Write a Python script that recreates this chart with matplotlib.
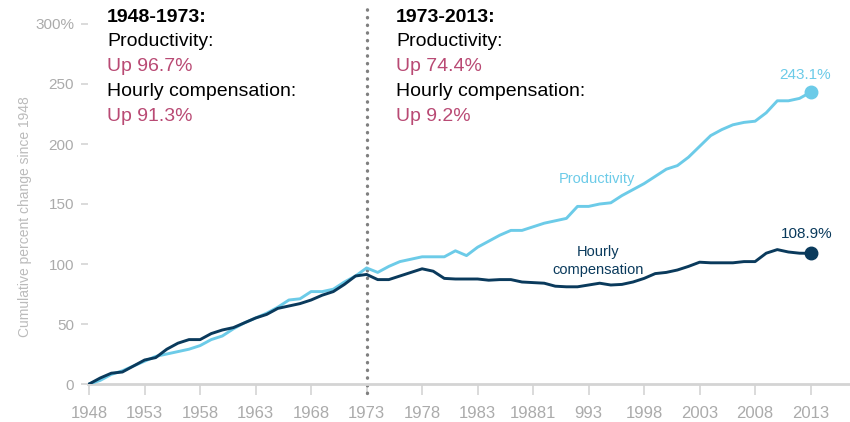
import matplotlib
matplotlib.use("Agg")
import matplotlib.pyplot as plt
import numpy as np

plt.rcParams["font.family"] = ["Liberation Sans", "DejaVu Sans"]

years = np.arange(1948, 2014)

productivity = [
    0, 3, 8, 11, 15, 19, 23, 25, 27, 29,
    32, 37, 40, 46, 51, 55, 59, 64, 70, 71,
    77, 77, 79, 85, 90, 96.7, 93, 98, 102, 104,
    106, 106, 106, 111, 107, 114, 119, 124, 128, 128,
    131, 134, 136, 138, 148, 148, 150, 151, 157, 162,
    167, 173, 179, 182, 189, 198, 207, 212, 216, 218,
    219, 226, 236, 236, 238, 243.1,
]

compensation = [
    0, 5, 9, 10, 15, 20, 22, 29, 34, 37,
    37, 42, 45, 47, 51, 55, 58, 63, 65, 67,
    70, 74, 77, 83, 90, 91.3, 87, 87, 90, 93,
    96, 94, 88, 87.5, 87.5, 87.5, 86.5, 87, 87, 85,
    84.5, 84, 81.5, 81, 81, 82.5, 84, 82.5, 83, 85,
    88, 92, 93, 95, 98, 101.5, 101, 101, 101, 102,
    102, 109, 112, 110, 109, 108.9,
]

xtick_years = list(range(1948, 2014, 5))
xtick_labels = ["1948", "1953", "1958", "1963", "1968", "1973", "1978",
                "1983", "19881", "993", "1998", "2003", "2008", "2013"]
ytick_vals = [0, 50, 100, 150, 200, 250, 300]
ytick_labels = ["0", "50", "100", "150", "200", "250", "300%"]

cyan = "#6ccbe8"
navy = "#0a3a5c"
pink = "#b94a74"
grey_txt = "#ababab"

W, H = 850, 422
fig = plt.figure(figsize=(W / 100, H / 100), dpi=100)
ax = fig.add_axes([88 / W, 38 / H, 1 - 88 / W, 1 - 38 / H])

ax.plot(years, productivity, color=cyan, lw=2.1, solid_joinstyle="round", zorder=3)
ax.plot(years, compensation, color=navy, lw=2.1, solid_joinstyle="round", zorder=4)
ax.plot(years[-1], productivity[-1], "o", color=cyan, ms=9, zorder=5)
ax.plot(years[-1], compensation[-1], "o", color=navy, ms=9, zorder=5)

# 1973 divider
ax.plot([1973, 1973], [-7.5, 316], color="#808080", lw=2.4,
        linestyle=(0, (0.1, 2.2)), dash_capstyle="round", clip_on=False, zorder=2)

ax.set_xlim(1947.9, 2016.55)
ax.set_ylim(0, 320)

for s in ["top", "right", "left"]:
    ax.spines[s].set_visible(False)
ax.spines["bottom"].set_color("#d4d4d4")
ax.spines["bottom"].set_linewidth(2)

ax.set_xticks(xtick_years)
ax.set_xticklabels(xtick_labels)
ax.set_yticks(ytick_vals)
ax.set_yticklabels(ytick_labels)
ax.tick_params(axis="x", colors="#d4d4d4", labelcolor=grey_txt, length=8,
               width=1.2, labelsize=12, pad=8)
ax.tick_params(axis="y", colors="#d4d4d4", labelcolor=grey_txt, length=5,
               width=1.2, labelsize=11, pad=5)

fig.text(25 / W, 1 - 217 / H, "Cumulative percent change since 1948",
         rotation=90, color="#bbbbbb", fontsize=10, ha="center", va="center")

# period annotations
blocks = [
    (107, "1948-1973:", "Up 96.7%", "Up 91.3%"),
    (396, "1973-2013:", "Up 74.4%", "Up 9.2%"),
]
for xpx, head, up_p, up_c in blocks:
    rows = [(head, "black", "bold"), ("Productivity:", "black", "normal"),
            (up_p, pink, "normal"), ("Hourly compensation:", "black", "normal"),
            (up_c, pink, "normal")]
    for i, (txt, col, wt) in enumerate(rows):
        fig.text(xpx / W, 1 - (17 + 24.8 * i) / H, txt, color=col,
                 fontweight=wt, fontsize=14, ha="left", va="center")

# series labels
fig.text(597 / W, 1 - 179 / H, "Productivity", color=cyan, fontsize=10.5,
         ha="center", va="center")
fig.text(598 / W, 1 - 261 / H, "Hourly\ncompensation", color=navy,
         fontsize=10.5, ha="center", va="center", linespacing=1.35)
fig.text(805 / W, 1 - 75 / H, "243.1%", color=cyan, fontsize=11,
         ha="center", va="center")
fig.text(807 / W, 1 - 234 / H, "108.9%", color=navy, fontsize=11,
         ha="center", va="center")

fig.savefig("out.png", dpi=100)
